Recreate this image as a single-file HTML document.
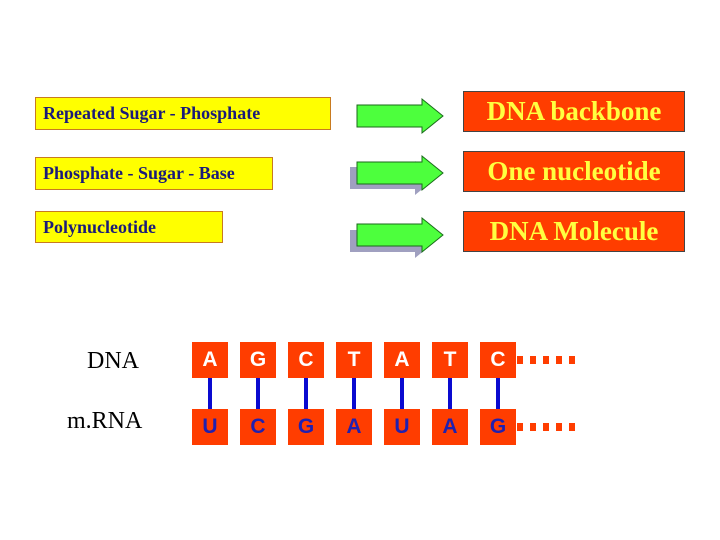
<!DOCTYPE html>
<html><head><style>
body{margin:0;width:720px;height:540px;background:#fff;position:relative;overflow:hidden;font-family:"Liberation Serif",serif}
.y{position:absolute;left:35px;background:#ffff00;border:1px solid #c87a20;box-sizing:border-box;color:#1a1a7a;font-weight:bold;font-size:18px;padding-left:7px;line-height:31px}
.r{position:absolute;left:463px;width:222px;height:41px;background:#ff3d00;border:1px solid #444;box-sizing:border-box;color:#ffff40;font-weight:bold;font-size:27px;text-align:center;line-height:39px}
.b{position:absolute;width:36px;height:36px;background:#ff3d00;font-family:"Liberation Sans",sans-serif;font-weight:bold;font-size:21px;text-align:center;line-height:36px}
.t{top:342px;color:#fff}.u{top:409px;color:#2020b0}
.l{position:absolute;width:4px;height:31px;top:378px;background:#0a0ad0}
.lab{position:absolute;font-size:24px;color:#000}
</style></head><body>
<div class="y" style="top:97px;width:296px;height:33px">Repeated Sugar - Phosphate</div>
<div class="y" style="top:157px;width:238px;height:33px">Phosphate - Sugar - Base</div>
<div class="y" style="top:211px;width:188px;height:32px">Polynucleotide</div>
<div class="r" style="top:91px">DNA backbone</div>
<div class="r" style="top:151px">One nucleotide</div>
<div class="r" style="top:211px">DNA Molecule</div>
<svg width="720" height="540" style="position:absolute;left:0;top:0">
<polygon points="357,105 422,105 422,99 443,116 422,133 422,127 357,127" fill="#4dff3d" stroke="#1a6a1a"/>
<polygon points="350,167 415,167 415,161 436,178 415,195 415,189 350,189" fill="#a0a0c0"/>
<polygon points="357,162 422,162 422,156 443,173 422,190 422,184 357,184" fill="#4dff3d" stroke="#1a6a1a"/>
<polygon points="350,230 415,230 415,224 436,241 415,258 415,252 350,252" fill="#a0a0c0"/>
<polygon points="357,224 422,224 422,218 443,235 422,252 422,246 357,246" fill="#4dff3d" stroke="#1a6a1a"/>
<g fill="#ff3d00">
<rect x="517" y="356" width="6" height="8"/><rect x="530" y="356" width="6" height="8"/><rect x="543" y="356" width="6" height="8"/><rect x="556" y="356" width="6" height="8"/><rect x="569" y="356" width="6" height="8"/>
<rect x="517" y="423" width="6" height="8"/><rect x="530" y="423" width="6" height="8"/><rect x="543" y="423" width="6" height="8"/><rect x="556" y="423" width="6" height="8"/><rect x="569" y="423" width="6" height="8"/>
</g></svg>
<div class="lab" style="left:87px;top:348px">DNA</div>
<div class="lab" style="left:67px;top:408px">m.RNA</div>
<div class="b t" style="left:192px">A</div><div class="b t" style="left:240px">G</div><div class="b t" style="left:288px">C</div><div class="b t" style="left:336px">T</div><div class="b t" style="left:384px">A</div><div class="b t" style="left:432px">T</div><div class="b t" style="left:480px">C</div>
<div class="b u" style="left:192px">U</div><div class="b u" style="left:240px">C</div><div class="b u" style="left:288px">G</div><div class="b u" style="left:336px">A</div><div class="b u" style="left:384px">U</div><div class="b u" style="left:432px">A</div><div class="b u" style="left:480px">G</div>
<div class="l" style="left:208px"></div><div class="l" style="left:256px"></div><div class="l" style="left:304px"></div><div class="l" style="left:352px"></div><div class="l" style="left:400px"></div><div class="l" style="left:448px"></div><div class="l" style="left:496px"></div>
</body></html>
